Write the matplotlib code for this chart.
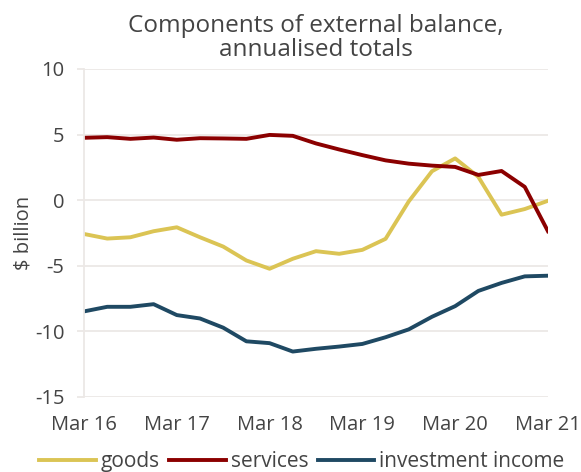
import numpy as np
import matplotlib
matplotlib.use('Agg')
import matplotlib.pyplot as plt

# quarterly, Mar 16 .. Mar 21
quarters = ['Mar 16', 'Jun 16', 'Sep 16', 'Dec 16',
            'Mar 17', 'Jun 17', 'Sep 17', 'Dec 17',
            'Mar 18', 'Jun 18', 'Sep 18', 'Dec 18',
            'Mar 19', 'Jun 19', 'Sep 19', 'Dec 19',
            'Mar 20', 'Jun 20', 'Sep 20', 'Dec 20',
            'Mar 21']
goods = [-2.58, -2.93, -2.83, -2.37, -2.07, -2.83, -3.54, -4.6, -5.23, -4.47,
         -3.89, -4.09, -3.79, -2.95, -0.1, 2.2, 3.18, 1.77, -1.11, -0.68, -0.05]
services = [4.75, 4.8, 4.67, 4.77, 4.6, 4.72, 4.7, 4.67, 4.97, 4.9,
            4.32, 3.86, 3.43, 3.03, 2.78, 2.63, 2.53, 1.92, 2.22, 1.01, -2.37]
investment_income = [-8.48, -8.13, -8.13, -7.93, -8.76, -9.02, -9.72, -10.76, -10.9, -11.54,
                     -11.33, -11.16, -10.96, -10.45, -9.85, -8.89, -8.08, -6.92, -6.31, -5.81, -5.76]

tick_labels = ['Mar 16', 'Mar 17', 'Mar 18', 'Mar 19', 'Mar 20', 'Mar 21']
y_ticks = [-15, -10, -5, 0, 5, 10]

plt.rcParams['font.family'] = ['Open Sans', 'DejaVu Sans']
plt.rcParams['axes.unicode_minus'] = False
text_col = '#444444'
grid_col = '#ECE8E6'

fig = plt.figure(figsize=(5.81, 4.72), dpi=100)
ax = fig.add_axes([0.1446, 0.159, 0.7985, 0.695])

x = np.arange(len(quarters))
ax.plot(x, goods, color='#DBC454', lw=2.8, label='goods')
ax.plot(x, services, color='#8B0000', lw=2.8, label='services')
ax.plot(x, investment_income, color='#1F4963', lw=2.8, label='investment income')

ax.set_xlim(0, len(quarters) - 1)
ax.set_ylim(-15, 10)
ax.set_yticks(y_ticks)
ax.set_xticks([quarters.index(t) for t in tick_labels])
ax.set_xticklabels(tick_labels)

ax.grid(axis='y', color=grid_col, lw=1.3)
ax.set_axisbelow(True)
for s in ['top', 'right', 'bottom']:
    ax.spines[s].set_visible(False)
ax.spines['left'].set_color(grid_col)
ax.spines['left'].set_linewidth(1.3)
ax.tick_params(axis='y', colors=grid_col, labelcolor=text_col, length=5,
               width=1.3, labelsize=14.5, pad=9)
ax.tick_params(axis='x', length=0, labelcolor=text_col, labelsize=14.5, pad=13)

ax.set_ylabel(r'\$ billion', color=text_col, fontsize=14.5, labelpad=1)
ax.set_title('Components of external balance,\nannualised totals',
             color=text_col, fontsize=17.5, pad=9, linespacing=1.02)

ax.legend(loc='upper center', bbox_to_anchor=(0.47, -0.14), ncol=3, frameon=False,
          fontsize=15, labelcolor=text_col, handlelength=2.7, handletextpad=0.25,
          columnspacing=0.45, borderaxespad=0)

fig.savefig('out.png', dpi=100)
